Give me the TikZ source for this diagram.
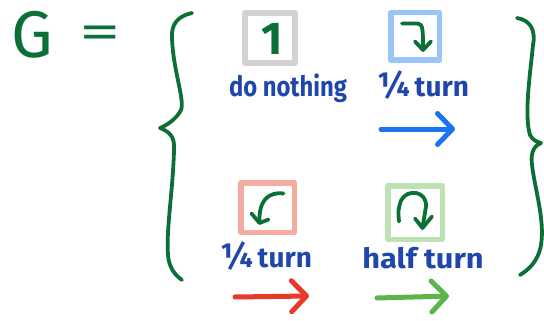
\documentclass[tikz,border=0pt]{standalone}
\usepackage{fontspec}
\setmainfont{Fira Sans}
\usetikzlibrary{arrows.meta}
\definecolor{pen}{HTML}{0B7036}
\definecolor{ink}{HTML}{1E46AC}
\definecolor{gbox}{HTML}{D2D2D2}
\definecolor{bbox}{HTML}{9CC5F7}
\definecolor{rbox}{HTML}{F5ABA2}
\definecolor{grbox}{HTML}{BEE2B4}
\definecolor{barrow}{HTML}{1A74EE}
\definecolor{rarrow}{HTML}{E8392A}
\definecolor{garrow}{HTML}{5BB54A}
\newcommand{\qtr}{{\fontsize{34}{34}\selectfont ¼}}
\begin{document}
\begin{tikzpicture}[x=1pt,y=-1pt, line cap=round, line join=round,
  sq/.style={draw, line width=5.5pt, inner sep=0pt},
  lbl/.style={text=ink, font=\bfseries\fontsize{28}{28}\selectfont, inner sep=0pt, anchor=base},
  icon/.style={draw=pen, line width=3.8pt},
  brace/.style={draw=pen, line width=3.8pt},
  mv/.style={line width=5pt, -{Straight Barb[length=15pt,width=31pt,line cap=round,line join=round]}}]
\useasboundingbox (0,0) rectangle (544,321);

% G =
\node[text=pen, font=\fontsize{66}{66}\selectfont, inner sep=0pt, anchor=base] (G) at (32.5,58) {G};
\node[text=pen, font=\fontsize{46}{46}\selectfont, inner sep=0pt] (eq) at (100,37) {\scalebox{1.8}[1.05]{=}};

% braces
\draw[brace] (192,13) .. controls (178,16) and (171,24) .. (172,38)
  .. controls (173,70) and (185,100) .. (181,110)
  .. controls (176,120) and (165,126) .. (160,128)
  .. controls (170,132) and (175,137) .. (174,150)
  .. controls (173,190) and (166,230) .. (168,255)
  .. controls (169,268) and (175,275) .. (182,280);
\draw[brace] (517,18) .. controls (530,20) and (536,30) .. (533,45)
  .. controls (530,75) and (524,115) .. (530,135)
  .. controls (533,141) and (538,142) .. (541,143)
  .. controls (536,145) and (530,150) .. (532,165)
  .. controls (535,190) and (545,220) .. (541,245)
  .. controls (538,262) and (528,270) .. (520,275);

% boxes
\node[sq, draw=gbox, minimum width=50pt, minimum height=50pt] (box1) at (270,38) {};
\node[sq, draw=bbox, minimum width=48.5pt, minimum height=47.5pt] (box2) at (415,36.5) {};
\node[sq, draw=rbox, minimum width=53.5pt, minimum height=49.5pt] (box3) at (267.5,207.5) {};
\node[sq, draw=grbox, minimum width=54.5pt, minimum height=53.5pt] (box4) at (415,212.5) {};

% icons
\node[text=pen, font=\bfseries\fontsize{46}{46}\selectfont, inner sep=0pt] (one) at (272,38.5) {1};
\begin{scope}[shift={(box2.center)}]
  \draw[icon] (-13,-13) -- (2,-13) .. controls (8,-13) and (8,-8) .. (8,13);
  \draw[icon] (0,5) -- (8,13.5) -- (16,5);
\end{scope}
\begin{scope}[shift={(box3.center)}]
  \draw[icon] (16,-14) .. controls (0,-16) and (-9,-6) .. (-8,15);
  \draw[icon] (-16,6) -- (-8,15.5) -- (1,12);
\end{scope}
\begin{scope}[shift={(box4.center)}]
  \draw[icon] (-16,9) .. controls (-17,-2) .. (-14,-12) .. controls (-8,-24) and (12,-22) .. (11,-6) -- (7.5,15);
  \draw[icon] (0,6) -- (7.5,15.5) -- (17,4);
\end{scope}

% labels
\node[lbl] (l1) at (288,97) {\scalebox{0.85}[1]{do nothing}};
\node[lbl] (l2) at (423,97) {\qtr\,turn};
\node[lbl] (l3) at (266,267) {\qtr\,turn};
\node[lbl] (l4) at (423,268) {\scalebox{1.1}[1]{half turn}};

% move arrows
\coordinate (b1) at (381,129); \coordinate (b2) at (455,129);
\draw[mv, barrow] (b1) -- (b2);
\coordinate (r1) at (235,297); \coordinate (r2) at (309,296);
\draw[mv, rarrow] (r1) -- (r2);
\coordinate (g1) at (377,298); \coordinate (g2) at (449,296);
\draw[mv, garrow] (g1) -- (g2);
\end{tikzpicture}
\end{document}
